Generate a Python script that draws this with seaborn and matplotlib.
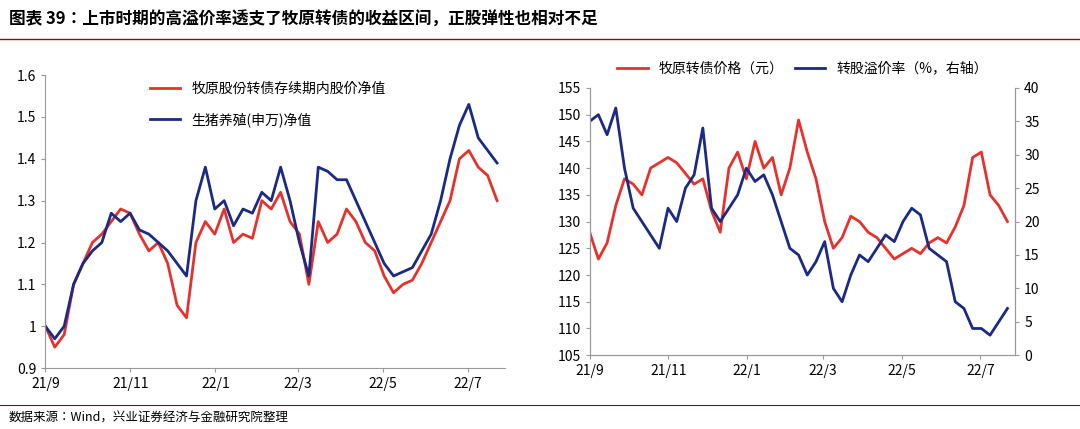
import matplotlib
matplotlib.use("Agg")
import matplotlib.pyplot as plt
from matplotlib import font_manager as fm
import seaborn as sns
import pandas as pd

cjk_name = None
for f in fm.findSystemFonts():
    if "CJK" in f and ("SC" in f or "Sans" in f):
        try:
            fm.fontManager.addfont(f)
            n = fm.FontProperties(fname=f).get_name()
            if cjk_name is None or "SC" in n:
                cjk_name = n
        except Exception:
            pass
plt.rcParams["font.family"] = [cjk_name or "Noto Sans CJK SC", "DejaVu Sans"]
plt.rcParams["axes.unicode_minus"] = False

dates = pd.date_range("2021-09-01", "2022-07-22", periods=49)
stock_nv = [1.0, 0.95, 0.98, 1.10, 1.15, 1.20, 1.22, 1.25, 1.28, 1.27, 1.22, 1.18, 1.20, 1.15,
            1.05, 1.02, 1.20, 1.25, 1.22, 1.28, 1.20, 1.22, 1.21, 1.30, 1.28, 1.32, 1.25,
            1.22, 1.10, 1.25, 1.20, 1.22, 1.28, 1.25, 1.20, 1.18, 1.12, 1.08, 1.10, 1.11, 1.15,
            1.20, 1.25, 1.30, 1.40, 1.42, 1.38, 1.36, 1.30]
hog_nv = [1.0, 0.97, 1.0, 1.10, 1.15, 1.18, 1.20, 1.27, 1.25, 1.27, 1.23, 1.22, 1.20, 1.18,
          1.15, 1.12, 1.30, 1.38, 1.28, 1.30, 1.24, 1.28, 1.27, 1.32, 1.30, 1.38, 1.30,
          1.20, 1.12, 1.38, 1.37, 1.35, 1.35, 1.30, 1.25, 1.20, 1.15, 1.12, 1.13, 1.14, 1.18,
          1.22, 1.30, 1.40, 1.48, 1.53, 1.45, 1.42, 1.39]
cb_price = [128, 123, 126, 133, 138, 137, 135, 140, 141, 142, 141, 139, 137, 138,
            132, 128, 140, 143, 138, 145, 140, 142, 135, 140, 149, 143, 138,
            130, 125, 127, 131, 130, 128, 127, 125, 123, 124, 125, 124, 126, 127,
            126, 129, 133, 142, 143, 135, 133, 130]
premium = [35, 36, 33, 37, 28, 22, 20, 18, 16, 22, 20, 25, 27, 34,
           22, 20, 22, 24, 28, 26, 27, 24, 20, 16, 15, 12, 14,
           17, 10, 8, 12, 15, 14, 16, 18, 17, 20, 22, 21, 16, 15,
           14, 8, 7, 4, 4, 3, 5, 7]
tick_dates = ["2021-09-01", "2021-11-01", "2022-01-01", "2022-03-01", "2022-05-01", "2022-07-01"]
tick_labels = ["21/9", "21/11", "22/1", "22/3", "22/5", "22/7"]

RED = "#E5322D"
BLUE = "#1B2A84"
df = pd.DataFrame({"date": dates, "s": stock_nv, "h": hog_nv, "p": cb_price, "r": premium})

fig = plt.figure(figsize=(10.8, 4.29), dpi=100)
fig.text(0.008, 0.955, "图表 39：上市时期的高溢价率透支了牧原转债的收益区间，正股弹性也相对不足",
         fontsize=12, fontweight="bold", va="center")
fig.add_artist(plt.Line2D([0, 1], [0.91, 0.91], color="#A00000", lw=1))
fig.add_artist(plt.Line2D([0, 1], [0.055, 0.055], color="#A00000", lw=0.8))
fig.text(0.008, 0.025, "数据来源：Wind，兴业证券经济与金融研究院整理", fontsize=9, va="center")

xt = pd.to_datetime(tick_dates)
xl = (pd.Timestamp("2021-09-01"), pd.Timestamp("2022-07-28"))

ax1 = fig.add_axes([0.042, 0.142, 0.426, 0.683])
sns.lineplot(data=df, x="date", y="s", ax=ax1, color=RED, lw=2, label="牧原股份转债存续期内股价净值")
sns.lineplot(data=df, x="date", y="h", ax=ax1, color=BLUE, lw=2, label="生猪养殖(申万)净值")
ax1.set_ylim(0.9, 1.6)
ax1.set_xlim(*xl)
ax1.set_xticks(xt)
ax1.set_xticklabels(tick_labels)
ax1.set_yticks([0.9, 1.0, 1.1, 1.2, 1.3, 1.4, 1.5, 1.6])
ax1.set_yticklabels(["0.9", "1", "1.1", "1.2", "1.3", "1.4", "1.5", "1.6"])
ax1.set_xlabel(""); ax1.set_ylabel("")
for s in ["top", "right"]:
    ax1.spines[s].set_visible(False)
for s in ["left", "bottom"]:
    ax1.spines[s].set_color("#999999")
ax1.tick_params(labelsize=10, color="#999999", length=3)
ax1.legend(loc="upper left", bbox_to_anchor=(0.2, 1.02), frameon=False, fontsize=10,
           handlelength=2.2, labelspacing=1.2)

ax2 = fig.add_axes([0.546, 0.172, 0.394, 0.623])
sns.lineplot(data=df, x="date", y="p", ax=ax2, color=RED, lw=2, legend=False)
ax3 = ax2.twinx()
sns.lineplot(data=df, x="date", y="r", ax=ax3, color=BLUE, lw=2, legend=False)
ax2.set_ylim(105, 155); ax2.set_yticks(range(105, 156, 5))
ax3.set_ylim(0, 40); ax3.set_yticks(range(0, 41, 5))
ax2.set_xlim(*xl)
ax2.set_xticks(xt); ax2.set_xticklabels(tick_labels)
for a in (ax2, ax3):
    a.set_xlabel(""); a.set_ylabel("")
    a.spines["top"].set_visible(False)
    for s in ["left", "right", "bottom"]:
        a.spines[s].set_color("#999999")
    a.tick_params(labelsize=10, color="#999999", length=3)
h = [plt.Line2D([], [], color=RED, lw=2), plt.Line2D([], [], color=BLUE, lw=2)]
ax2.legend(h, ["牧原转债价格（元）", "转股溢价率（%，右轴）"], loc="lower center",
           bbox_to_anchor=(0.5, 1.0), ncol=2, frameon=False, fontsize=10,
           handlelength=2.2, columnspacing=0.8)

fig.savefig("out.png", dpi=100)
